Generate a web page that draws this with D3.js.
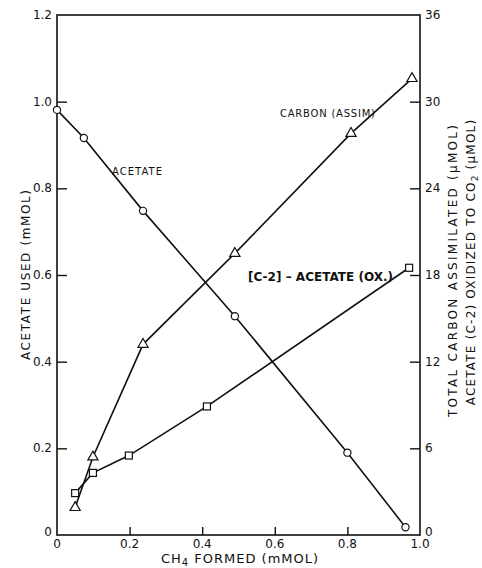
<!DOCTYPE html>
<html>
<head>
<meta charset="utf-8">
<script src="https://cdn.jsdelivr.net/npm/d3@7"></script>
<style>
	body { margin: 0; background: #fff; }
	svg { display: block; }
	text { font-family: 'DejaVu Sans', sans-serif; fill: #111; }
</style>
</head>
<body>
<div id="chart"></div>
<script>
// CH4 formed (mMOL), x values of each series
var acetate_x = [0.0, 0.074, 0.237, 0.49, 0.80, 0.96];
// Acetate used (mMOL), left axis
var acetate_y = [0.981, 0.916, 0.748, 0.505, 0.19, 0.018];

var carbon_x = [0.05, 0.099, 0.237, 0.49, 0.81, 0.978];
// Total carbon assimilated (uMOL), right axis
var carbon_y = [1.9, 5.4, 13.2, 19.5, 27.8, 31.6];

var ox_x = [0.05, 0.099, 0.198, 0.413, 0.97];
// Acetate (C-2) oxidized to CO2 (uMOL), right axis
var ox_y = [2.9, 4.3, 5.5, 8.9, 18.5];

var x_ticks = [0, 0.2, 0.4, 0.6, 0.8, 1.0];
var x_tick_labels = ['0', '0.2', '0.4', '0.6', '0.8', '1.0'];
var left_ticks = [0, 0.2, 0.4, 0.6, 0.8, 1.0, 1.2];
var left_tick_labels = ['0', '0.2', '0.4', '0.6', '0.8', '1.0', '1.2'];
var right_ticks = [0, 6, 12, 18, 24, 30, 36];

/***********************************************************
  Start: Setup
***********************************************************/
var width = 482;
var height = 568;
var svg = d3.select('#chart').append('svg')
	.attr('width', width)
	.attr('height', height);

var x = d3.scaleLinear().domain([0, 1]).range([57, 420]);
var y = d3.scaleLinear().domain([0, 1.2]).range([535, 15]);
var y_right = d3.scaleLinear().domain([0, 36]).range([535, 15]);
/***********************************************************
  End: Setup
***********************************************************/

/***********************************************************
  Start: Frame and Axes
***********************************************************/
svg.append('rect')
	.attr('x', x(0))
	.attr('y', y(1.2))
	.attr('width', x(1) - x(0))
	.attr('height', y(0) - y(1.2))
	.attr('fill', 'none')
	.attr('stroke', '#111')
	.attr('stroke-width', 1.6);

var left_axis = svg.append('g')
	.attr('transform', 'translate(' + x(0) + ',0)')
	.call(d3.axisRight(y).tickValues(left_ticks.slice(1, 6)).tickSize(10).tickFormat(''));
var right_axis = svg.append('g')
	.attr('transform', 'translate(' + x(1) + ',0)')
	.call(d3.axisLeft(y_right).tickValues(right_ticks.slice(1, 6)).tickSize(10).tickFormat(''));
var bottom_axis = svg.append('g')
	.attr('transform', 'translate(0,' + y(0) + ')')
	.call(d3.axisTop(x).tickValues(x_ticks.slice(1, 5)).tickSize(8).tickFormat(''));
[left_axis, right_axis, bottom_axis].forEach(function(a) {
	a.select('.domain').remove();
	a.selectAll('line').attr('stroke', '#111').attr('stroke-width', 1.4);
});

// Tick labels
svg.selectAll('.lt').data(left_ticks).enter().append('text')
	.attr('x', x(0) - 5)
	.attr('y', function(d) { return y(d) + (d == 0 ? 1 : 4); })
	.style('text-anchor', 'end')
	.style('font-size', '12px')
	.text(function(d, i) { return left_tick_labels[i]; });
svg.selectAll('.rt').data(right_ticks).enter().append('text')
	.attr('x', x(1) + 5)
	.attr('y', function(d) { return y_right(d) + (d == 0 ? 1 : 4); })
	.style('font-size', '12px')
	.text(function(d) { return d; });
svg.selectAll('.xt').data(x_ticks).enter().append('text')
	.attr('x', function(d) { return x(d); })
	.attr('y', y(0) + 13)
	.style('text-anchor', 'middle')
	.style('font-size', '12px')
	.text(function(d, i) { return x_tick_labels[i]; });
/***********************************************************
  End: Frame and Axes
***********************************************************/

/***********************************************************
  Start: Series
***********************************************************/
function points(xs, ys, scale) {
	return xs.map(function(d, i) { return [x(d), scale(ys[i])]; });
}
var line = d3.line();
var acetate_pts = points(acetate_x, acetate_y, y);
var carbon_pts = points(carbon_x, carbon_y, y_right);
var ox_pts = points(ox_x, ox_y, y_right);

[acetate_pts, carbon_pts, ox_pts].forEach(function(p) {
	svg.append('path')
		.attr('d', line(p))
		.attr('fill', 'none')
		.attr('stroke', '#111')
		.attr('stroke-width', 1.6);
});

svg.selectAll('.circ').data(acetate_pts).enter().append('circle')
	.attr('cx', function(d) { return d[0]; })
	.attr('cy', function(d) { return d[1]; })
	.attr('r', 3.6)
	.attr('fill', '#fff')
	.attr('stroke', '#111')
	.attr('stroke-width', 1.2);
svg.selectAll('.tri').data(carbon_pts).enter().append('path')
	.attr('d', d3.symbol().type(d3.symbolTriangle).size(45))
	.attr('transform', function(d) { return 'translate(' + d[0] + ',' + d[1] + ')'; })
	.attr('fill', '#fff')
	.attr('stroke', '#111')
	.attr('stroke-width', 1.2);
svg.selectAll('.sq').data(ox_pts).enter().append('rect')
	.attr('x', function(d) { return d[0] - 3.5; })
	.attr('y', function(d) { return d[1] - 3.5; })
	.attr('width', 7)
	.attr('height', 7)
	.attr('fill', '#fff')
	.attr('stroke', '#111')
	.attr('stroke-width', 1.2);
/***********************************************************
  End: Series
***********************************************************/

/***********************************************************
  Start: Labels
***********************************************************/
svg.append('text')
	.attr('x', 112)
	.attr('y', 175)
	.style('font-size', '10px')
	.attr('textLength', 50)
	.text('ACETATE');
svg.append('text')
	.attr('x', 280)
	.attr('y', 117)
	.style('font-size', '10px')
	.attr('textLength', 95)
	.text('CARBON (ASSIM)');
svg.append('text')
	.attr('x', 248)
	.attr('y', 281)
	.style('font-size', '12px')
	.style('font-weight', 'bold')
	.attr('textLength', 145)
	.text('[C-2] – ACETATE (OX.)');

svg.append('text')
	.attr('transform', 'translate(30,275) rotate(-90)')
	.style('text-anchor', 'middle')
	.style('font-size', '12px')
	.attr('textLength', 170)
	.text('ACETATE USED (mMOL)');
svg.append('text')
	.attr('transform', 'translate(457,271) rotate(-90)')
	.style('text-anchor', 'middle')
	.style('font-size', '12px')
	.attr('textLength', 292)
	.text('TOTAL CARBON ASSIMILATED (µMOL)');
var t2 = svg.append('text')
	.attr('transform', 'translate(475,262) rotate(-90)')
	.style('text-anchor', 'middle')
	.style('font-size', '12px')
	.style('letter-spacing', '1.2px');
t2.append('tspan').text('ACETATE (C-2) OXIDIZED TO CO');
t2.append('tspan').attr('dy', 3).style('font-size', '9px').text('2');
t2.append('tspan').attr('dy', -3).text(' (µMOL)');

var xt = svg.append('text')
	.attr('x', 240)
	.attr('y', 563)
	.style('text-anchor', 'middle')
	.style('font-size', '13px')
	.style('letter-spacing', '1px');
xt.append('tspan').text('CH');
xt.append('tspan').attr('dy', 3).style('font-size', '10px').text('4');
xt.append('tspan').attr('dy', -3).text(' FORMED (mMOL)');
/***********************************************************
  End: Labels
***********************************************************/
</script>
</body>
</html>
